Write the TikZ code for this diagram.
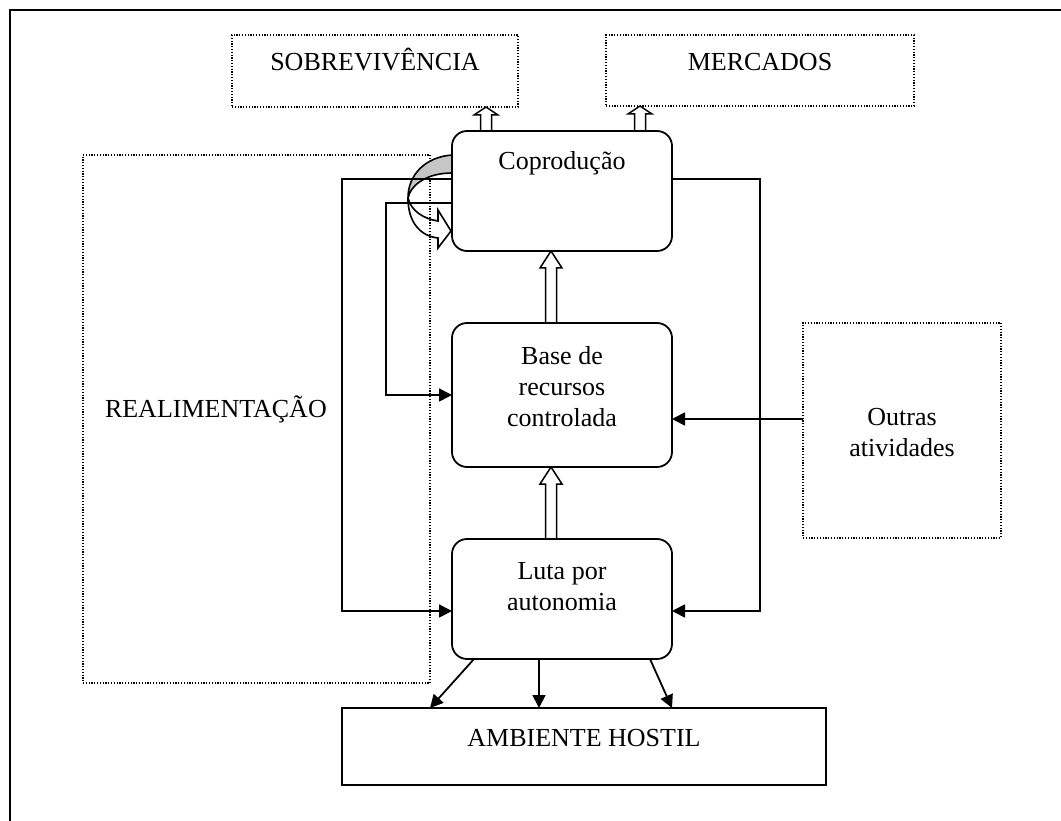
\documentclass[tikz,border=0pt]{standalone}
\usepackage{fontspec}
\setmainfont{Liberation Serif}
\usetikzlibrary{arrows.meta,calc}
\begin{document}
\begin{tikzpicture}[x=1pt,y=-1pt,
  every node/.style={inner sep=0pt, outer sep=0pt},
  txt/.style={font=\fontsize{26}{31}\selectfont, anchor=base},
  dotbox/.style={draw, line width=1.2pt, dash pattern=on 1.2pt off 1.6pt, rectangle},
  rbox/.style={draw, line width=1.8pt, rounded corners=15pt, rectangle},
  sbox/.style={draw, line width=1.8pt, rectangle},
  conn/.style={line width=1.8pt, -{Triangle[length=13pt,width=13pt]}},
  hollow/.style={draw, line width=1.5pt, line join=miter},
]
\fill[white] (0,0) rectangle (1061,821);
\useasboundingbox (0,0) rectangle (1061,821);
\draw[line width=2.2pt] (10,821) -- (10,10) -- (1061,10);

% dotted boxes
\node[dotbox, minimum width=286pt, minimum height=72pt] (sobrev) at (375,71) {};
\node[txt] (sobrevt) at (375,71) {SOBREVIVÊNCIA};
\node[dotbox, minimum width=308pt, minimum height=71pt] (merc) at (760,70.5) {};
\node[txt] (merct) at (760,71) {MERCADOS};
\node[dotbox, minimum width=347pt, minimum height=528pt] (real) at (256.5,419) {};
\node[txt, anchor=base west] (realt) at (105,417) {REALIMENTAÇÃO};
\node[dotbox, minimum width=198pt, minimum height=215pt] (outras) at (902,430.5) {};
\node[txt] (outrast1) at (902,425) {Outras};
\node[txt] (outrast2) at (902,456) {atividades};

% solid boxes
\node[rbox, minimum width=220pt, minimum height=120pt] (copro) at (562,191) {};
\node[txt] (coprot) at (562,170) {Coprodução};
\node[rbox, minimum width=220pt, minimum height=144pt] (base) at (562,395) {};
\node[txt] (baset1) at (562,364) {Base de};
\node[txt] (baset2) at (562,395) {recursos};
\node[txt] (baset3) at (562,426) {controlada};
\node[rbox, minimum width=220pt, minimum height=120pt] (luta) at (562,599) {};
\node[txt] (lutat1) at (562,579) {Luta por};
\node[txt] (lutat2) at (562,610) {autonomia};
\node[sbox, minimum width=484pt, minimum height=77pt] (amb) at (584,746.5) {};
\node[txt] (ambt) at (584,746) {AMBIENTE HOSTIL};

% curved arrow (back part, gray)
\draw[fill=gray!45, line width=1.6pt] (452,155) .. controls (425,157) and (408,175) .. (408,198)
  .. controls (411,184) and (428,173) .. (452,173) -- cycle;
% curved arrow (front part)
\draw[line width=1.6pt, line join=miter] (408,198) .. controls (408,222) and (420,236) .. (438,238)
  -- (438,248) -- (451,231) -- (438,210) -- (438,221)
  .. controls (424,219) and (411,211) .. (408,198);

% feedback connectors
\draw[conn] ($(copro.west)+(0,-12)$) -| (342,400) |- ($(luta.west)+(0,12)$);
\draw[conn] ($(copro.west)+(0,12)$) -| (386,300) |- (base.west);
\draw[conn] ($(copro.east)+(0,-12)$) -| (760,400) |- ($(luta.east)+(0,12)$);
\coordinate (bin) at ($(base.east)+(0,24)$);
\draw[conn] (outras.west |- bin) -- (bin);

% arrows to ambiente hostil
\draw[conn] ($(luta.south)+(-88,0)$) -- ($(amb.north)+(-154,0)$);
\draw[conn] ($(luta.south)+(-23,0)$) -- ($(amb.north)+(-45,0)$);
\draw[conn] ($(luta.south)+(88,0)$) -- ($(amb.north)+(88,0)$);

% hollow arrows
\coordinate (h1s) at ($(luta.north)+(-11,0)$);
\coordinate (h1e) at ($(base.south)+(-11,0)$);
\coordinate (h2s) at ($(base.north)+(-11,0)$);
\coordinate (h2e) at ($(copro.south)+(-11,0)$);
\coordinate (h3s) at ($(copro.north)+(-76,0)$);
\coordinate (h3e) at (h3s |- sobrev.south);
\coordinate (h4s) at ($(copro.north)+(78,0)$);
\coordinate (h4e) at (h4s |- merc.south);
\foreach \s/\e/\h/\w in {h1s/h1e/17/11, h2s/h2e/17/11, h3s/h3e/8/12, h4s/h4e/8/12}{
  \draw[hollow] ($(\s)+(-5.5,0)$) -- ($(\e)+(-5.5,\h)$) -- ($(\e)+(-\w,\h)$) -- (\e)
    -- ($(\e)+(\w,\h)$) -- ($(\e)+(5.5,\h)$) -- ($(\s)+(5.5,0)$);
}
\end{tikzpicture}
\end{document}
